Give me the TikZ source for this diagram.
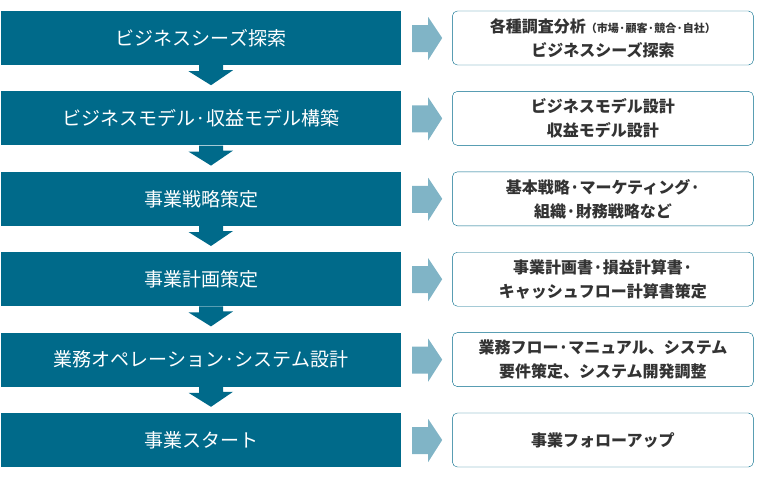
\documentclass[tikz,border=0pt]{standalone}
\usepackage{fontspec}
\newfontfamily\jp{Noto Sans CJK JP}
\usetikzlibrary{positioning,calc}
\definecolor{stageblue}{RGB}{0,106,138}
\definecolor{pointblue}{RGB}{128,180,198}
\definecolor{textgray}{RGB}{51,51,51}
\begin{document}
\begin{tikzpicture}[x=1pt,y=-1pt,
  stage/.style = {fill=stageblue, text=white, inner sep=0pt,
    minimum width=400pt, minimum height=54pt,
    font=\jp\fontsize{19}{22}\selectfont},
  detail/.style = {draw=stageblue, rounded corners=5pt, fill=white,
    inner sep=0pt, minimum width=301pt, minimum height=54pt,
    align=center, text=textgray,
    font=\jp\bfseries\fontsize{16}{24}\selectfont},
  downstep/.style = {fill=stageblue},
  sidestep/.style = {fill=pointblue},
  node distance=26pt and 51pt]
\useasboundingbox (0,0) rectangle (760,480);
% left column
\node[stage] (s1) at (201,38) {ビジネスシーズ探索};
\node[stage, below=of s1] (s2) {ビジネスモデル·収益モデル構築};
\node[stage, below=of s2] (s3) {事業戦略策定};
\node[stage, below=of s3] (s4) {事業計画策定};
\node[stage, below=of s4] (s5) {業務オペレーション·システム設計};
\node[stage, below=of s5] (s6) {事業スタート};
% right column
\node[detail, right=of s1] (d1) {各種調査分析{\fontsize{11}{13}\selectfont（市場·顧客·競合·自社）}\\ビジネスシーズ探索};
\node[detail, right=of s2] (d2) {ビジネスモデル設計\\収益モデル設計};
\node[detail, right=of s3] (d3) {基本戦略·マーケティング·\\組織·財務戦略など};
\node[detail, right=of s4] (d4) {事業計画書·損益計算書·\\キャッシュフロー計算書策定};
\node[detail, right=of s5] (d5) {業務フロー·マニュアル、システム\\要件策定、システム開発調整};
\node[detail, right=of s6] (d6) {事業フォローアップ};
% arrows down
\foreach \a/\b in {s1/s2,s2/s3,s3/s4,s4/s5,s5/s6}{
  \fill[downstep] ($(\a.south)+(-2,0)$) -- ++(24,0) -- ++(0,5) -- ++(10,0)
    -- ($(\b.north)+(10,-6)$) -- ++(-22.5,-14) -- ++(10.5,0) -- cycle;
}
% arrows right
\foreach \a/\b in {s1/d1,s2/d2,s3/d3,s4/d4,s5/d5,s6/d6}{
  \fill[sidestep] ($(\a.east)+(11,-13)$) -- ++(16,0) -- ++(0,-8) -- ($(\b.west)+(-10,0)$)
    -- ++(-14,22) -- ++(0,-8) -- ++(-16,0) -- cycle;
}
\end{tikzpicture}
\end{document}
